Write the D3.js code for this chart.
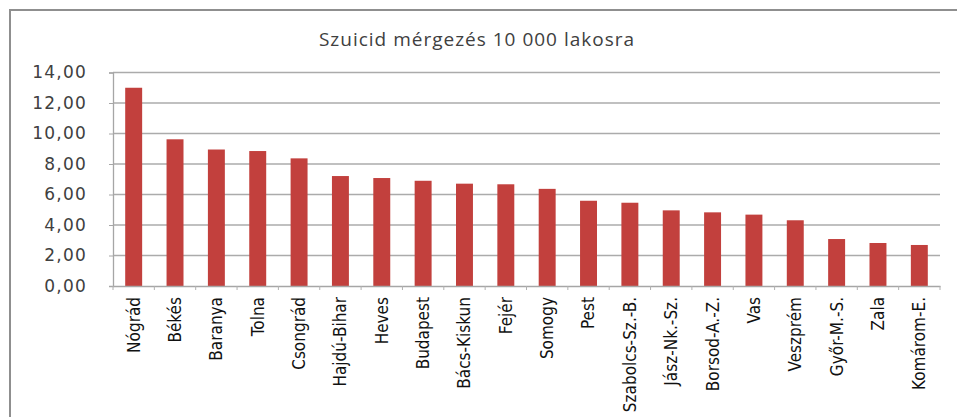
<!DOCTYPE html>
<html><head><meta charset="utf-8">
<script src="https://cdn.jsdelivr.net/npm/d3@7"></script>
<style>body{margin:0;background:#fff}svg{display:block}</style>
</head><body>
<script>
const title = "Szuicid mérgezés 10 000 lakosra";
const counties = ["Nógrád","Békés","Baranya","Tolna","Csongrád","Hajdú-Bihar","Heves","Budapest","Bács-Kiskun","Fejér","Somogy","Pest","Szabolcs-Sz.-B.","Jász-Nk.-Sz.","Borsod-A.-Z.","Vas","Veszprém","Győr-M.-S.","Zala","Komárom-E."];
const values = [13.0,9.62,8.95,8.85,8.37,7.21,7.08,6.9,6.71,6.67,6.37,5.59,5.46,4.96,4.83,4.68,4.31,3.08,2.82,2.69];
const yTicks = [0,2,4,6,8,10,12,14];

const W=957,H=417;
const svg=d3.select("body").append("svg").attr("width",W).attr("height",H);
svg.append("rect").attr("width",W).attr("height",H).attr("fill","#fff");
svg.append("rect").attr("x",10).attr("y",10).attr("width",970).attr("height",430)
  .attr("fill","none").attr("stroke","#8f8f8f").attr("stroke-width",2);

const x=d3.scaleBand().domain(counties).range([113,940]).paddingInner(0.59).paddingOuter(0.295);
const y=d3.scaleLinear().domain([0,14]).range([286,72.5]);

// gridlines
svg.append("g").selectAll("line").data(yTicks.slice(1)).join("line")
  .attr("x1",113).attr("x2",940).attr("y1",d=>y(d)).attr("y2",d=>y(d))
  .attr("stroke","#ababab").attr("stroke-width",1.3);

// y axis
const ya=svg.append("g").attr("transform","translate(113,0)")
  .call(d3.axisLeft(y).tickValues(yTicks).tickSize(4).tickPadding(22).tickFormat(d=>d3.format(".2f")(d).replace(".",",")));
ya.select(".domain").attr("stroke","#a6a6a6").attr("stroke-width",1.3);
ya.selectAll(".tick line").attr("stroke","#a6a6a6");
ya.selectAll("text").attr("font-family","DejaVu Sans").attr("font-size",17).attr("fill","#404040").attr("letter-spacing","1.2px");

// bars
svg.append("g").selectAll("rect").data(values).join("rect")
  .attr("x",(d,i)=>x(counties[i])).attr("width",x.bandwidth())
  .attr("y",d=>y(d)).attr("height",d=>y(0)-y(d)).attr("fill","#c2403d");

// x axis
const xa=svg.append("g").attr("transform","translate(0,286)")
  .call(d3.axisBottom(x).tickSize(0).tickPadding(0));
xa.select(".domain").attr("stroke","#a6a6a6").attr("stroke-width",1.3);
const bounds=d3.range(counties.length+1).map(i=>x.range()[0]+i*x.step());
xa.selectAll(".bt").data(bounds).join("line").attr("class","bt")
  .attr("x1",d=>d).attr("x2",d=>d).attr("y1",0).attr("y2",4).attr("stroke","#b0b0b0");
xa.selectAll(".tick text").attr("transform","rotate(-90)").attr("text-anchor","end")
  .attr("x",-11).attr("y",0).attr("dy","0.35em")
  .attr("font-family","'Liberation Sans Narrow', 'DejaVu Sans Condensed', sans-serif").attr("font-size",17).attr("fill","#111");

svg.append("text").attr("x",477).attr("y",46).attr("text-anchor","middle")
  .attr("font-family","'Open Sans', sans-serif").attr("font-size",19).attr("letter-spacing","1px").attr("fill","#404040").text(title);
</script>
</body></html>
